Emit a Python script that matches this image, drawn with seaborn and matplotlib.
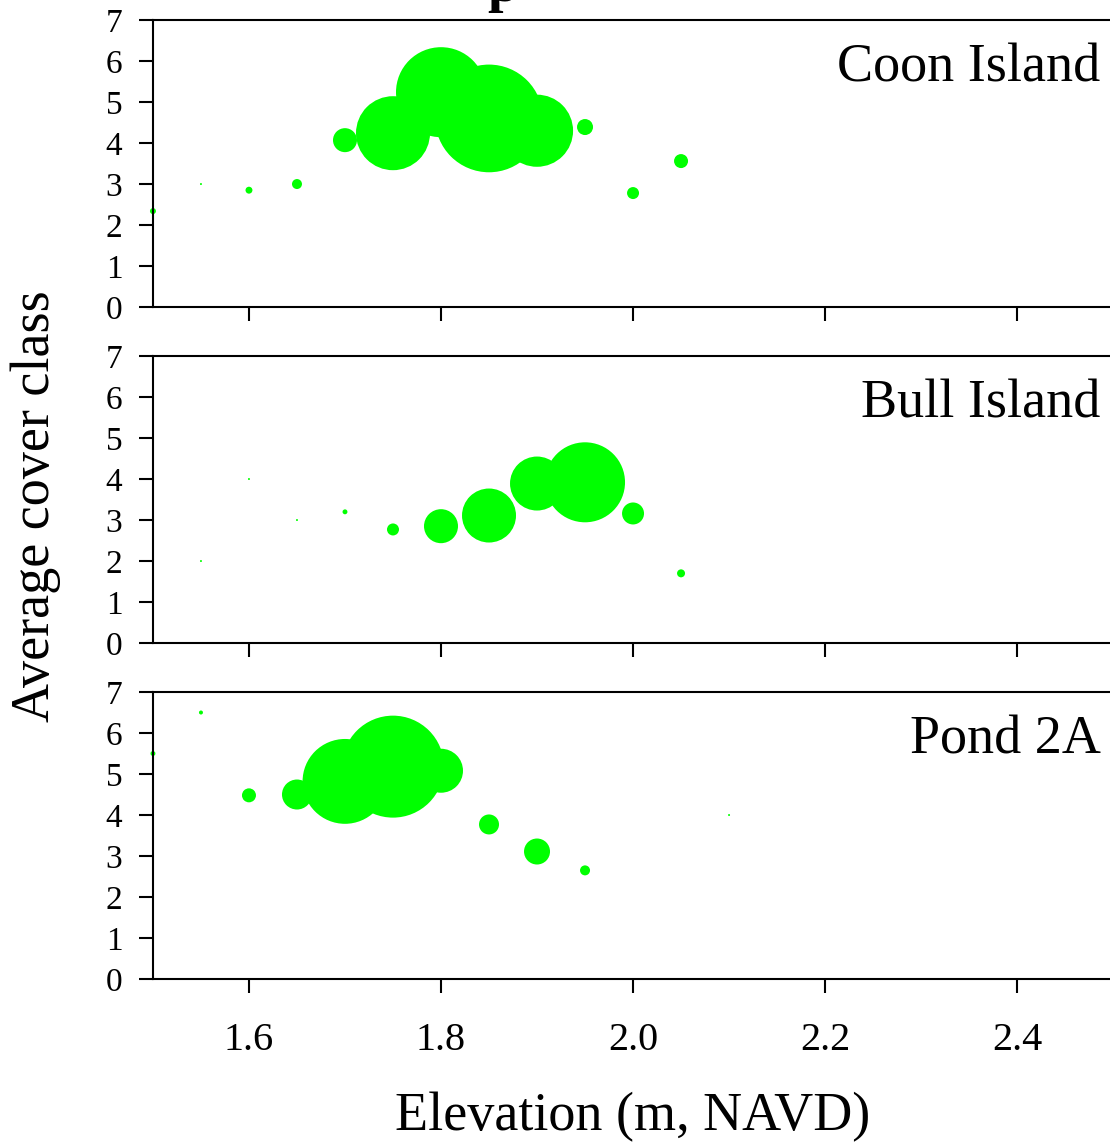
import numpy as np
import pandas as pd
import seaborn as sns
import matplotlib.pyplot as plt

# --- Dados ---
sites = ['Coon Island', 'Bull Island', 'Pond 2A']

coon_elev = [1.50, 1.55, 1.60, 1.65, 1.70, 1.75, 1.80, 1.85, 1.90, 1.95, 2.00, 2.05]
coon_cover = [2.34, 3.00, 2.85, 3.00, 4.07, 4.24, 5.24, 4.60, 4.30, 4.39, 2.78, 3.56]
coon_n = [9, 1, 12, 25, 144, 1369, 2025, 2900, 1300, 64, 36, 49]

bull_elev = [1.55, 1.60, 1.65, 1.70, 1.75, 1.80, 1.85, 1.90, 1.95, 2.00, 2.05]
bull_cover = [2.00, 4.00, 3.00, 3.20, 2.77, 2.85, 3.11, 3.89, 3.92, 3.16, 1.70]
bull_n = [1, 1, 1, 6, 36, 289, 729, 729, 1600, 121, 16]

pond_elev = [1.50, 1.55, 1.60, 1.65, 1.70, 1.75, 1.80, 1.85, 1.90, 1.95, 2.10]
pond_cover = [5.50, 6.50, 4.48, 4.50, 4.82, 5.18, 5.08, 3.77, 3.11, 2.65, 4.00]
pond_n = [6, 4, 49, 225, 1800, 2600, 484, 100, 169, 25, 1]

x_ticks = [1.6, 1.8, 2.0, 2.2, 2.4]
y_ticks = [0, 1, 2, 3, 4, 5, 6, 7]

df = pd.concat([
    pd.DataFrame({'site': sites[0], 'elev': coon_elev, 'cover': coon_cover, 'n': coon_n}),
    pd.DataFrame({'site': sites[1], 'elev': bull_elev, 'cover': bull_cover, 'n': bull_n}),
    pd.DataFrame({'site': sites[2], 'elev': pond_elev, 'cover': pond_cover, 'n': pond_n}),
])

# --- Estilo ---
sns.set_style('ticks')
plt.rcParams['font.family'] = ['Liberation Serif', 'DejaVu Serif']
plt.rcParams['axes.linewidth'] = 1.5
for k in ['text.color', 'axes.labelcolor', 'xtick.color', 'ytick.color', 'axes.edgecolor']:
    plt.rcParams[k] = 'black'

fig = plt.figure(figsize=(11.1, 11.44), dpi=100)

n_max = df['n'].max()
px = 72 / 100  # pontos por pixel
s_max = (2 * np.sqrt(n_max) * px) ** 2

bottoms = [0.7316, 0.4379, 0.1442]
for i, site in enumerate(sites):
    ax = fig.add_axes([0.1378, bottoms[i], 0.865, 0.2509])
    sub = df[df['site'] == site]
    sns.scatterplot(data=sub, x='elev', y='cover', size='n', sizes=(0, s_max),
                    size_norm=(0, n_max), color='#00ff00', edgecolor='none',
                    alpha=1, legend=False, clip_on=False, ax=ax)
    ax.set_xlim(1.5, 2.5)
    ax.set_ylim(0, 7)
    ax.set_xticks(x_ticks)
    ax.set_yticks(y_ticks)
    ax.set_xlabel('')
    ax.set_ylabel('')
    ax.spines['right'].set_visible(False)
    ax.tick_params(axis='y', direction='out', length=10, width=1.5, pad=12, labelsize=24)
    ax.tick_params(axis='x', direction='out', length=10, width=1.5, pad=21, labelsize=29)
    if i < 2:
        ax.tick_params(axis='x', labelbottom=False)
    else:
        ax.set_xticklabels([f'{t:.1f}' for t in x_ticks])
    ax.text(0.987, 0.785, site, transform=ax.transAxes, ha='right', va='baseline', fontsize=39)

fig.text(0.57, 0.012, 'Elevation (m, NAVD)', ha='center', va='baseline', fontsize=39)
fig.text(0.032, 0.558, 'Average cover class', ha='center', va='center', rotation=90, fontsize=39)
# titulo cortado no topo
fig.text(0.453, 0.999, 'p', ha='center', va='baseline', fontsize=40, fontweight='bold')

plt.savefig('out.png', dpi=100)
plt.close()
